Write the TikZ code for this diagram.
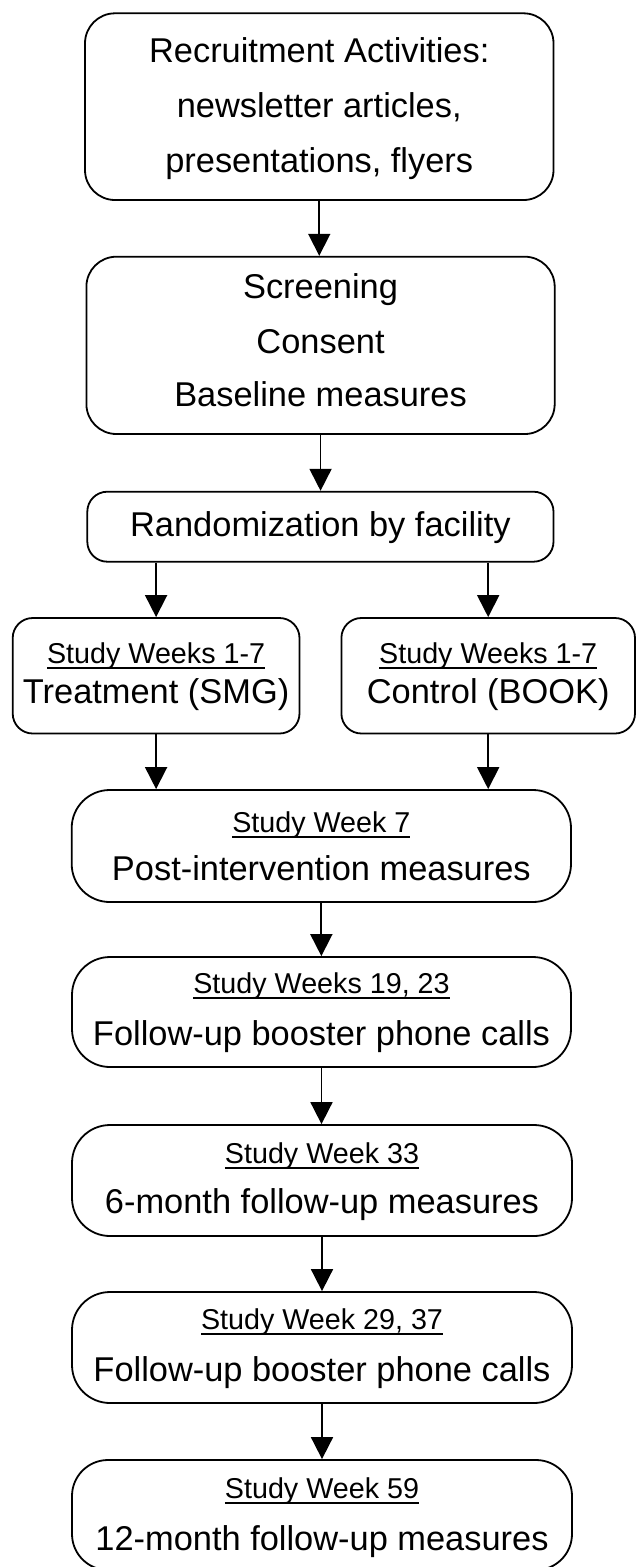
\documentclass[tikz,border=0pt]{standalone}
\usepackage{fontspec}
\setmainfont{Liberation Sans}
\usetikzlibrary{arrows.meta}
\newcommand\myul[1]{\setbox0\hbox{#1}\rlap{\rule[-5.6pt]{\wd0}{2pt}}\box0}
\begin{document}
\begin{tikzpicture}[x=1pt,y=-1pt,
  box/.style={draw, line width=1.8pt, rounded corners=#1, inner sep=0pt},
  maintext/.style={font=\fontsize{34.4}{40}\selectfont, inner sep=0pt, anchor=base},
  smalltext/.style={font=\fontsize{28.7}{34}\selectfont, inner sep=0pt, anchor=base},
  arr/.style={line width=1.8pt, -{Triangle[width=22pt,length=22pt]}}]
\useasboundingbox (0,0) rectangle (636,1567);
\clip (0,0) rectangle (636,1567);
% boxes
\node[box=30pt, minimum width=468.5pt, minimum height=186.7pt] (B1) at (319.25,106.65) {};
\node[box=30pt, minimum width=468.3pt, minimum height=177.3pt] (B2) at (320.55,345.35) {};
\node[box=20pt, minimum width=466.2pt, minimum height=70pt] (B3) at (320.4,526.7) {};
\node[box=20pt, minimum width=286.8pt, minimum height=115.5pt] (B4) at (156.1,675.75) {};
\node[box=20pt, minimum width=293.6pt, minimum height=115.5pt] (B5) at (488.2,675.75) {};
\node[box=38pt, minimum width=499.3pt, minimum height=112pt] (B6) at (321.35,846) {};
\node[box=38pt, minimum width=499pt, minimum height=110pt] (B7) at (321.5,1012) {};
\node[box=38pt, minimum width=500pt, minimum height=111pt] (B8) at (322,1180.5) {};
\node[box=38pt, minimum width=500pt, minimum height=111pt] (B9) at (322,1347.5) {};
\node[box=36pt, minimum width=500pt, minimum height=110pt] (B10) at (322,1515) {};
% texts
\node[maintext] (t1a) at (319.25,62) {Recruitment Activities:};
\node[maintext] (t1b) at (319.25,117) {newsletter articles,};
\node[maintext] (t1c) at (319.25,172) {presentations, flyers};
\node[maintext] (t2a) at (320.55,298) {Screening};
\node[maintext] (t2b) at (320.55,353) {Consent};
\node[maintext] (t2c) at (320.55,406) {Baseline measures};
\node[maintext] (t3) at (320.4,536) {Randomization by facility};
\node[smalltext] (t4a) at (156.1,663) {\myul{Study Weeks 1-7}};
\node[maintext] (t4b) at (156.1,703) {Treatment (SMG)};
\node[smalltext] (t5a) at (488.2,663) {\myul{Study Weeks 1-7}};
\node[maintext] (t5b) at (488.2,703) {Control (BOOK)};
\node[smalltext] (t6a) at (321.35,832) {\myul{Study Week 7}};
\node[maintext] (t6b) at (321.35,880) {Post-intervention measures};
\node[smalltext] (t7a) at (321.5,993) {\myul{Study Weeks 19, 23}};
\node[maintext] (t7b) at (321.5,1045) {Follow-up booster phone calls};
\node[smalltext] (t8a) at (322,1163) {\myul{Study Week 33}};
\node[maintext] (t8b) at (322,1213) {6-month follow-up measures};
\node[smalltext] (t9a) at (322,1329) {\myul{Study Week 29, 37}};
\node[maintext] (t9b) at (322,1381) {Follow-up booster phone calls};
\node[smalltext] (t10a) at (322,1498) {\myul{Study Week 59}};
\node[maintext] (t10b) at (322,1550) {12-month follow-up measures};
% connectors
\draw[arr] (B1.south) -- (B1.south |- B2.north);
\draw[arr] (B2.south) -- (B2.south |- B3.north);
\draw[arr] (B3.south -| B4.north) -- (B4.north);
\draw[arr] (B3.south -| B5.north) -- (B5.north);
\draw[arr] (B4.south) -- (B4.south |- B6.north);
\draw[arr] (B5.south) -- (B5.south |- B6.north);
\draw[arr] (B6.south) -- (B6.south |- B7.north);
\draw[arr] (B7.south) -- (B7.south |- B8.north);
\draw[arr] (B8.south) -- (B8.south |- B9.north);
\draw[arr] (B9.south) -- (B9.south |- B10.north);
\end{tikzpicture}
\end{document}
